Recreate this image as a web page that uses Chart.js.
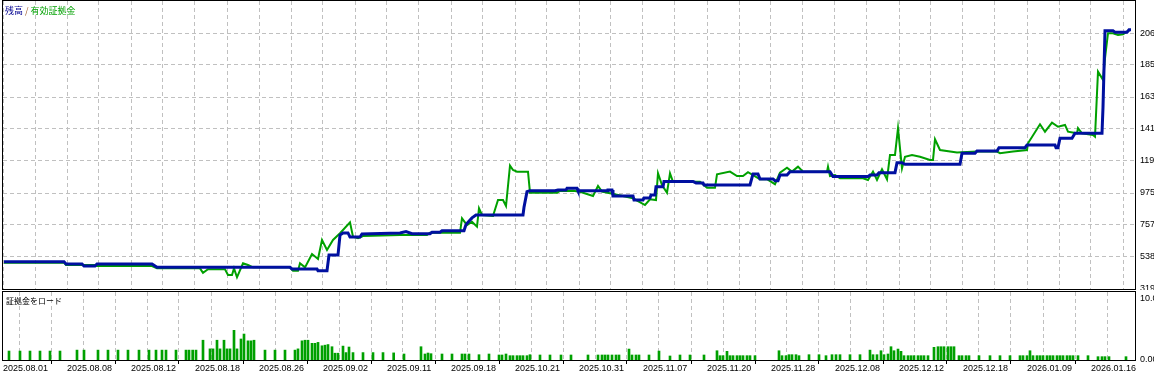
<!DOCTYPE html>
<html>
<head>
<meta charset="utf-8">
<script src="https://cdn.jsdelivr.net/npm/chart.js@4/dist/chart.umd.min.js"></script>
<style>
  html, body { margin: 0; padding: 0; background: #fff; }
  #wrap { position: relative; width: 1154px; height: 373px; overflow: hidden; }
  canvas { position: absolute; left: 0; }
  #top { top: 0; }
  #load { top: 290px; }
  .cap { position: absolute; font-family: "Noto Sans CJK JP"; white-space: nowrap; }
</style>
</head>
<body>
<div id="wrap">
  <canvas id="top" width="1154" height="290"></canvas>
  <canvas id="load" width="1154" height="83"></canvas>
  <div class="cap" style="left:5px;top:6px;font-size:9px;line-height:10px"><span style="color:#000090">残高</span> <span style="color:#a06030">/</span> <span style="color:#00a000">有効証拠金</span></div>
  <div class="cap" style="left:6px;top:296px;font-size:8px;line-height:9px;color:#000">証拠金をロード</div>
</div>
<script>
// x is the deal number along the test
const dateLabels = [
  "2025.08.01", "2025.08.08", "2025.08.12", "2025.08.18", "2025.08.26", "2025.09.02",
  "2025.09.11", "2025.09.18", "2025.10.21", "2025.10.31", "2025.11.07", "2025.11.20",
  "2025.11.28", "2025.12.08", "2025.12.12", "2025.12.18", "2026.01.09", "2026.01.16"
]
const balanceTicks = [319, 538, 757, 975, 1194, 1413, 1631, 1850, 2068]
const loadTicks = [0, 10]

const balance = [
  [0,506],[18,506],[18.6,490],[23.4,490],[24,476],[27.3,476],[27.9,490],[44.4,490],[45.9,467],[85.8,467],
  [86.4,456],[93.9,456],[94.2,444],[96.9,444],[97.5,551],[100.2,551],[100.8,688],[101.7,702],[103.2,702],[103.8,674],
  [106.8,674],[107.4,695],[118.8,702],[120.6,712],[122.4,697],[127.8,697],[128.4,707],[130.8,707],[131.4,717],[138,717],
  [138.6,760],[140.4,805],[141.6,825],[155.7,825],[156,878],[156.9,984],[157.8,991],[165.3,991],[166.2,996],[168.6,996],
  [168.9,1007],[171.9,1007],[172.2,991],[180.9,991],[181.2,996],[182.4,996],[182.7,955],[188.7,955],[189,927],[191.7,927],
  [192,941],[193.8,941],[194.1,962],[195.3,962],[195.6,1018],[197.7,1018],[198,1054],[206.7,1054],[207.6,1044],[209.7,1044],
  [210,1030],[223.8,1030],[224.7,1105],[226.2,1105],[226.8,1071],[230.7,1071],[231.3,1059],[232.2,1059],[232.8,1098],[234.9,1098],
  [235.8,1121],[247.8,1121],[248.7,1087],[259.2,1087],[259.8,1098],[261.9,1098],[262.5,1114],[267.3,1114],[267.9,1182],[269.4,1182],
  [270.3,1171],[286.8,1171],[287.4,1247],[291.3,1247],[291.9,1262],[297.9,1262],[298.5,1285],[306.3,1285],[306.9,1303],[315.3,1303],
  [315.6,1285],[316.2,1285],[316.8,1349],[320.4,1349],[321.3,1383],[329.4,1383],[329.7,1560],[330.3,2083],[332.7,2083],[333.3,2074],
  [336.9,2074],[337.5,2090],[338.1,2090]
]

const equity = [
  [0,499],[18,499],[18.6,483],[27.3,483],[27.9,476],[44.4,476],[45.9,460],[58.8,460],[59.7,430],[61.2,454],
  [66.3,454],[67.2,415],[68.4,415],[69,460],[69.9,399],[71.7,495],[73.2,483],[74.7,467],[85.8,467],[86.7,444],
  [88.2,444],[88.8,495],[90.3,467],[92.4,558],[94.2,524],[95.4,654],[96.9,586],[98.7,654],[100.8,700],[103.8,775],
  [104.7,677],[106.2,666],[107.7,681],[118.8,688],[126.9,688],[127.8,704],[136.8,704],[137.4,802],[138.9,756],[140.4,779],
  [141.9,745],[142.5,871],[143.4,825],[146.7,818],[148.2,927],[149.7,927],[150.6,886],[151.8,1162],[152.7,1132],[153.9,1121],
  [157.2,1121],[157.8,977],[165.9,977],[166.8,989],[170.7,991],[172.8,984],[176.7,955],[178.2,1023],[179.4,984],[181.8,973],
  [188.7,939],[192.3,893],[193.8,932],[195.6,927],[196.2,1110],[197.4,1030],[198.9,977],[199.8,1110],[200.7,1052],[208.8,1052],
  [210.9,1011],[213.3,1011],[213.9,1103],[217.8,1121],[219.9,1091],[221.7,1091],[223.2,1117],[226.8,1069],[228.9,1069],[231.3,1035],
  [232.8,1114],[234.9,1148],[236.4,1121],[238.2,1155],[239.7,1121],[246.9,1121],[247.2,1155],[247.8,1091],[249.3,1098],[250.8,1076],
  [257.7,1076],[259.2,1064],[260.7,1121],[261.9,1064],[263.4,1137],[264.9,1069],[265.8,1235],[267.3,1235],[268.2,1418],[269.4,1144],
  [270.3,1223],[272.4,1235],[274.8,1223],[277.8,1201],[278.7,1201],[279.3,1342],[280.8,1269],[285.9,1251],[291.9,1258],[297.9,1258],
  [298.8,1247],[302.7,1258],[306.9,1269],[307.2,1315],[310.8,1445],[312.3,1394],[314.4,1456],[316.2,1428],[318.3,1440],[319.2,1394],
  [321.9,1383],[322.2,1418],[323.4,1383],[326.7,1372],[327.3,1360],[327.9,1657],[328.2,1804],[329.7,1748],[330.3,1896],[331.2,2067],
  [332.7,2067],[334.2,2055],[335.7,2060],[336.9,2078],[337.8,2090]
]

const marginLoad = [
  [1.5,1.45],[4.8,1.45],[7.8,1.45],[10.8,1.45],[13.8,1.45],[16.8,1.45],[21.9,1.6],[24,1.6],[28.2,1.6],[31.2,1.6],
  [34.2,1.6],[37.2,1.6],[40.5,1.6],[43.5,1.6],[45.6,1.6],[47.4,1.6],[48.6,1.6],[51.6,1.6],[54.6,1.6],[55.5,1.6],
  [56.6,1.6],[57.6,1.6],[59.7,3.2],[61.8,1.8],[62.7,1.8],[63.9,3.2],[64.8,1.8],[66,3.2],[66.9,1.8],[67.8,1.8],
  [69,4.8],[69.9,1.8],[71.1,3.4],[72,4.2],[73.2,3.1],[74.1,3.1],[75,3.2],[78.3,1.6],[81.3,1.6],[84.3,1.6],
  [87.3,1.6],[88.2,1.8],[89.4,3.1],[90.3,3.2],[91.2,3.2],[92.4,2.7],[93.3,2.7],[94.2,2.85],[95.4,2.3],[96.3,2.4],
  [97.2,2.5],[98.4,2.15],[99.3,1.1],[100.2,1.1],[101.7,2.25],[102.6,1.2],[103.5,2.1],[104.7,1.2],[107.7,1.2],[110.7,1.2],
  [113.7,1.2],[116.9,1.15],[120,0.97],[125.1,2.15],[126.3,0.97],[127.2,1.13],[128.1,1.02],[131.4,0.97],[134.4,0.97],[137.4,0.97],
  [138.3,0.97],[139.5,0.97],[142.5,0.86],[145.5,0.97],[148.5,0.81],[149.4,0.81],[150.6,0.97],[151.8,0.7],[152.7,0.7],[153.9,0.7],
  [154.8,0.7],[155.7,0.7],[156.9,0.7],[157.8,0.86],[160.8,0.81],[163.8,0.81],[167.1,0.81],[170.1,0.81],[175.2,0.81],[178.2,0.81],
  [179.4,0.81],[180.3,0.81],[181.2,0.81],[182.4,0.81],[183.6,0.81],[184.5,0.81],[187.5,1.77],[188.4,0.81],[189.6,0.81],[190.5,0.81],
  [193.5,0.81],[196.5,1.45],[199.8,0.65],[202.8,0.81],[205.8,0.81],[210,0.81],[213.9,1.5],[214.8,0.7],[215.7,0.7],[216.9,1.4],
  [217.8,0.7],[218.7,0.7],[219.9,0.7],[220.8,0.7],[221.7,0.7],[222.9,0.7],[223.8,0.7],[225.3,0.7],[232.5,1.5],[233.4,0.7],
  [234.6,0.7],[235.5,0.86],[236.4,0.86],[237.6,0.86],[238.5,0.7],[241.5,0.86],[244.5,0.86],[246.6,0.7],[248.4,0.86],[249.6,0.86],
  [250.8,0.86],[253.8,0.86],[256.8,0.86],[259.8,1.6],[260.7,0.86],[261.9,0.86],[263.1,1.5],[264,0.86],[265.2,0.97],[266.1,2.15],
  [267,1.5],[268.2,1.77],[269.1,1.4],[270,0.7],[271.2,0.7],[272.1,0.7],[273,0.7],[274.2,0.7],[275.1,0.7],[276,0.7],
  [277.2,0.7],[279,2.05],[280.2,2.15],[281.1,2.15],[282,2.15],[283.2,2.15],[284.1,2.15],[285,2.15],[286.5,0.7],[287.4,0.7],
  [288.6,0.7],[289.5,0.7],[292.5,0.7],[295.8,0.7],[298.8,0.7],[301.8,0.7],[304.8,0.7],[305.7,0.7],[306.9,0.7],[307.8,1.5],
  [308.7,0.7],[309.9,0.7],[310.8,0.7],[311.7,0.7],[312.9,0.7],[313.8,0.7],[314.7,0.7],[315.9,0.7],[316.8,0.7],[317.7,0.7],
  [318.9,0.7],[319.8,0.7],[320.7,0.7],[322.2,0.7],[325.2,0.7],[328.2,0.54],[329.4,0.54],[330.3,0.54],[331.5,0.54],[336.6,0.54]
]

const X_MIN = -0.3
const X_MAX = 339.3
const GRID_STEP = 9.6
const GRID_COUNT = 36

const BLUE = "#0010a0"
const GREEN = "#00a000"
const GRID = "#c0c0c0"
const font = { family: "Liberation Sans", size: 9 }

const gridTicks = () => Array.from({ length: GRID_COUNT }, (_, k) => ({ value: X_MIN + k * GRID_STEP }))
const xy = rows => rows.map(([x, y]) => ({ x, y }))

// black frame round each panel
const frame = {
  id: "frame",
  afterDraw(chart) {
    const { ctx, chartArea: a } = chart
    ctx.save()
    ctx.strokeStyle = "#000"
    ctx.lineWidth = 1
    ctx.strokeRect(a.left - 0.5, a.top - 0.5, a.right - a.left + 1, a.bottom - a.top + 1)
    ctx.restore()
  }
}

const noPad = s => { s.paddingTop = 0; s.paddingBottom = 0; s.paddingLeft = 0; s.paddingRight = 0 }

new Chart(document.getElementById("top"), {
  type: "line",
  data: {
    datasets: [
      { label: "残高", data: xy(balance), borderColor: BLUE, borderWidth: 3, pointRadius: 0, tension: 0, order: 0 },
      { label: "有効証拠金", data: xy(equity), borderColor: GREEN, borderWidth: 2, pointRadius: 0, tension: 0, order: 1 }
    ]
  },
  options: {
    responsive: false,
    animation: false,
    events: [],
    layout: { padding: { left: 3, top: 1, right: 0, bottom: 1 } },
    plugins: { legend: { display: false }, tooltip: { enabled: false } },
    scales: {
      x: {
        type: "linear", min: X_MIN, max: X_MAX,
        afterBuildTicks: s => { s.ticks = gridTicks() },
        afterFit: s => { s.height = 0; noPad(s) },
        ticks: { display: false },
        grid: { color: GRID, drawTicks: false },
        border: { display: false, dash: [4, 3] }
      },
      y: {
        position: "right", min: 319, max: 2287,
        afterBuildTicks: s => { s.ticks = balanceTicks.map(v => ({ value: v })) },
        afterFit: s => { s.width = 19; noPad(s) },
        ticks: { font, color: "#000", padding: 5, callback: v => String(v) },
        grid: { color: GRID, drawTicks: false },
        border: { display: false, dash: [4, 3] }
      }
    }
  },
  plugins: [frame]
})

new Chart(document.getElementById("load"), {
  type: "bar",
  data: {
    datasets: [
      { label: "証拠金をロード", data: xy(marginLoad), backgroundColor: GREEN, barThickness: 2, borderWidth: 0, grouped: false }
    ]
  },
  options: {
    responsive: false,
    animation: false,
    events: [],
    layout: { padding: { left: 3, top: 2, right: 0, bottom: 0 } },
    plugins: { legend: { display: false }, tooltip: { enabled: false } },
    scales: {
      x: {
        type: "linear", min: X_MIN, max: X_MAX, offset: false,
        afterBuildTicks: s => { s.ticks = gridTicks() },
        afterFit: s => { s.height = 13; noPad(s) },
        ticks: {
          font, color: "#000", align: "start", autoSkip: false, maxRotation: 0, padding: -1,
          callback: (v, i) => i % 2 === 0 ? dateLabels[i / 2] : ""
        },
        grid: {
          color: GRID, drawTicks: true, tickLength: 4,
          tickColor: c => c.index % 2 === 0 ? "#000" : "rgba(0,0,0,0)"
        },
        border: { display: false, dash: [4, 3] }
      },
      y: {
        position: "right", min: 0, max: 11,
        afterBuildTicks: s => { s.ticks = loadTicks.map(v => ({ value: v })) },
        afterFit: s => { s.width = 19; noPad(s) },
        ticks: { font, color: "#000", padding: 5, callback: v => v.toFixed(2) },
        grid: { display: false, drawTicks: false },
        border: { display: false }
      }
    }
  },
  plugins: [frame]
})
</script>
</body>
</html>
